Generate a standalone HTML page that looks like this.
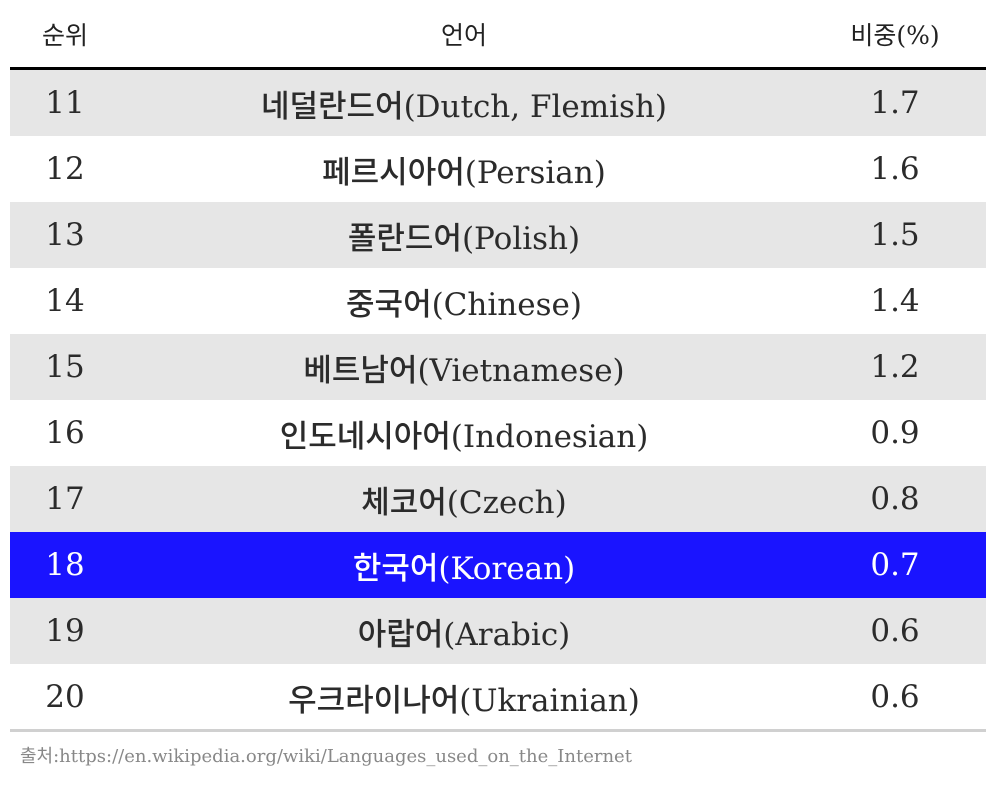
<!DOCTYPE html>
<html><head><meta charset="utf-8"><style>
body{margin:0;width:996px;height:788px;background:#fff;font-family:"DejaVu Serif","Noto Sans CJK KR",serif;color:#2b2b2b;overflow:hidden}
.t{position:absolute;left:10px;top:0;width:976px}
.hdr{height:67px;position:relative;border-bottom:3px solid #000;font-size:25px;color:#222}
.row{height:66px;position:relative;font-size:31px;font-weight:500}
.row:nth-child(odd){background:#e6e6e6}
.row.hl{background:#1a14ff;color:#fff}
.c{position:absolute;top:0;height:100%;display:flex;align-items:center;justify-content:center;white-space:nowrap}
.c1{left:0;width:110px}.c2{left:150px;width:608px}.c3{left:820px;width:130px}
.bot{position:absolute;left:10px;top:729px;width:976px;border-top:3px solid #d0d0d0}
.src{position:absolute;left:20px;top:742px;font-size:18px;color:#888;letter-spacing:0px}
</style></head><body>
<div class="t">
<div class="hdr">
<div class="c c1">순위</div>
<div class="c c2">언어</div>
<div class="c c3">비중(%)</div>
</div>
<div>
<div class="row"><div class="c c1">11</div><div class="c c2">네덜란드어(Dutch, Flemish)</div><div class="c c3">1.7</div></div>
<div class="row"><div class="c c1">12</div><div class="c c2">페르시아어(Persian)</div><div class="c c3">1.6</div></div>
<div class="row"><div class="c c1">13</div><div class="c c2">폴란드어(Polish)</div><div class="c c3">1.5</div></div>
<div class="row"><div class="c c1">14</div><div class="c c2">중국어(Chinese)</div><div class="c c3">1.4</div></div>
<div class="row"><div class="c c1">15</div><div class="c c2">베트남어(Vietnamese)</div><div class="c c3">1.2</div></div>
<div class="row"><div class="c c1">16</div><div class="c c2">인도네시아어(Indonesian)</div><div class="c c3">0.9</div></div>
<div class="row"><div class="c c1">17</div><div class="c c2">체코어(Czech)</div><div class="c c3">0.8</div></div>
<div class="row hl"><div class="c c1">18</div><div class="c c2">한국어(Korean)</div><div class="c c3">0.7</div></div>
<div class="row"><div class="c c1">19</div><div class="c c2">아랍어(Arabic)</div><div class="c c3">0.6</div></div>
<div class="row"><div class="c c1">20</div><div class="c c2">우크라이나어(Ukrainian)</div><div class="c c3">0.6</div></div>
</div>
</div>
<div class="bot"></div>
<div class="src">출처:https://en.wikipedia.org/wiki/Languages_used_on_the_Internet</div>
</body></html>
